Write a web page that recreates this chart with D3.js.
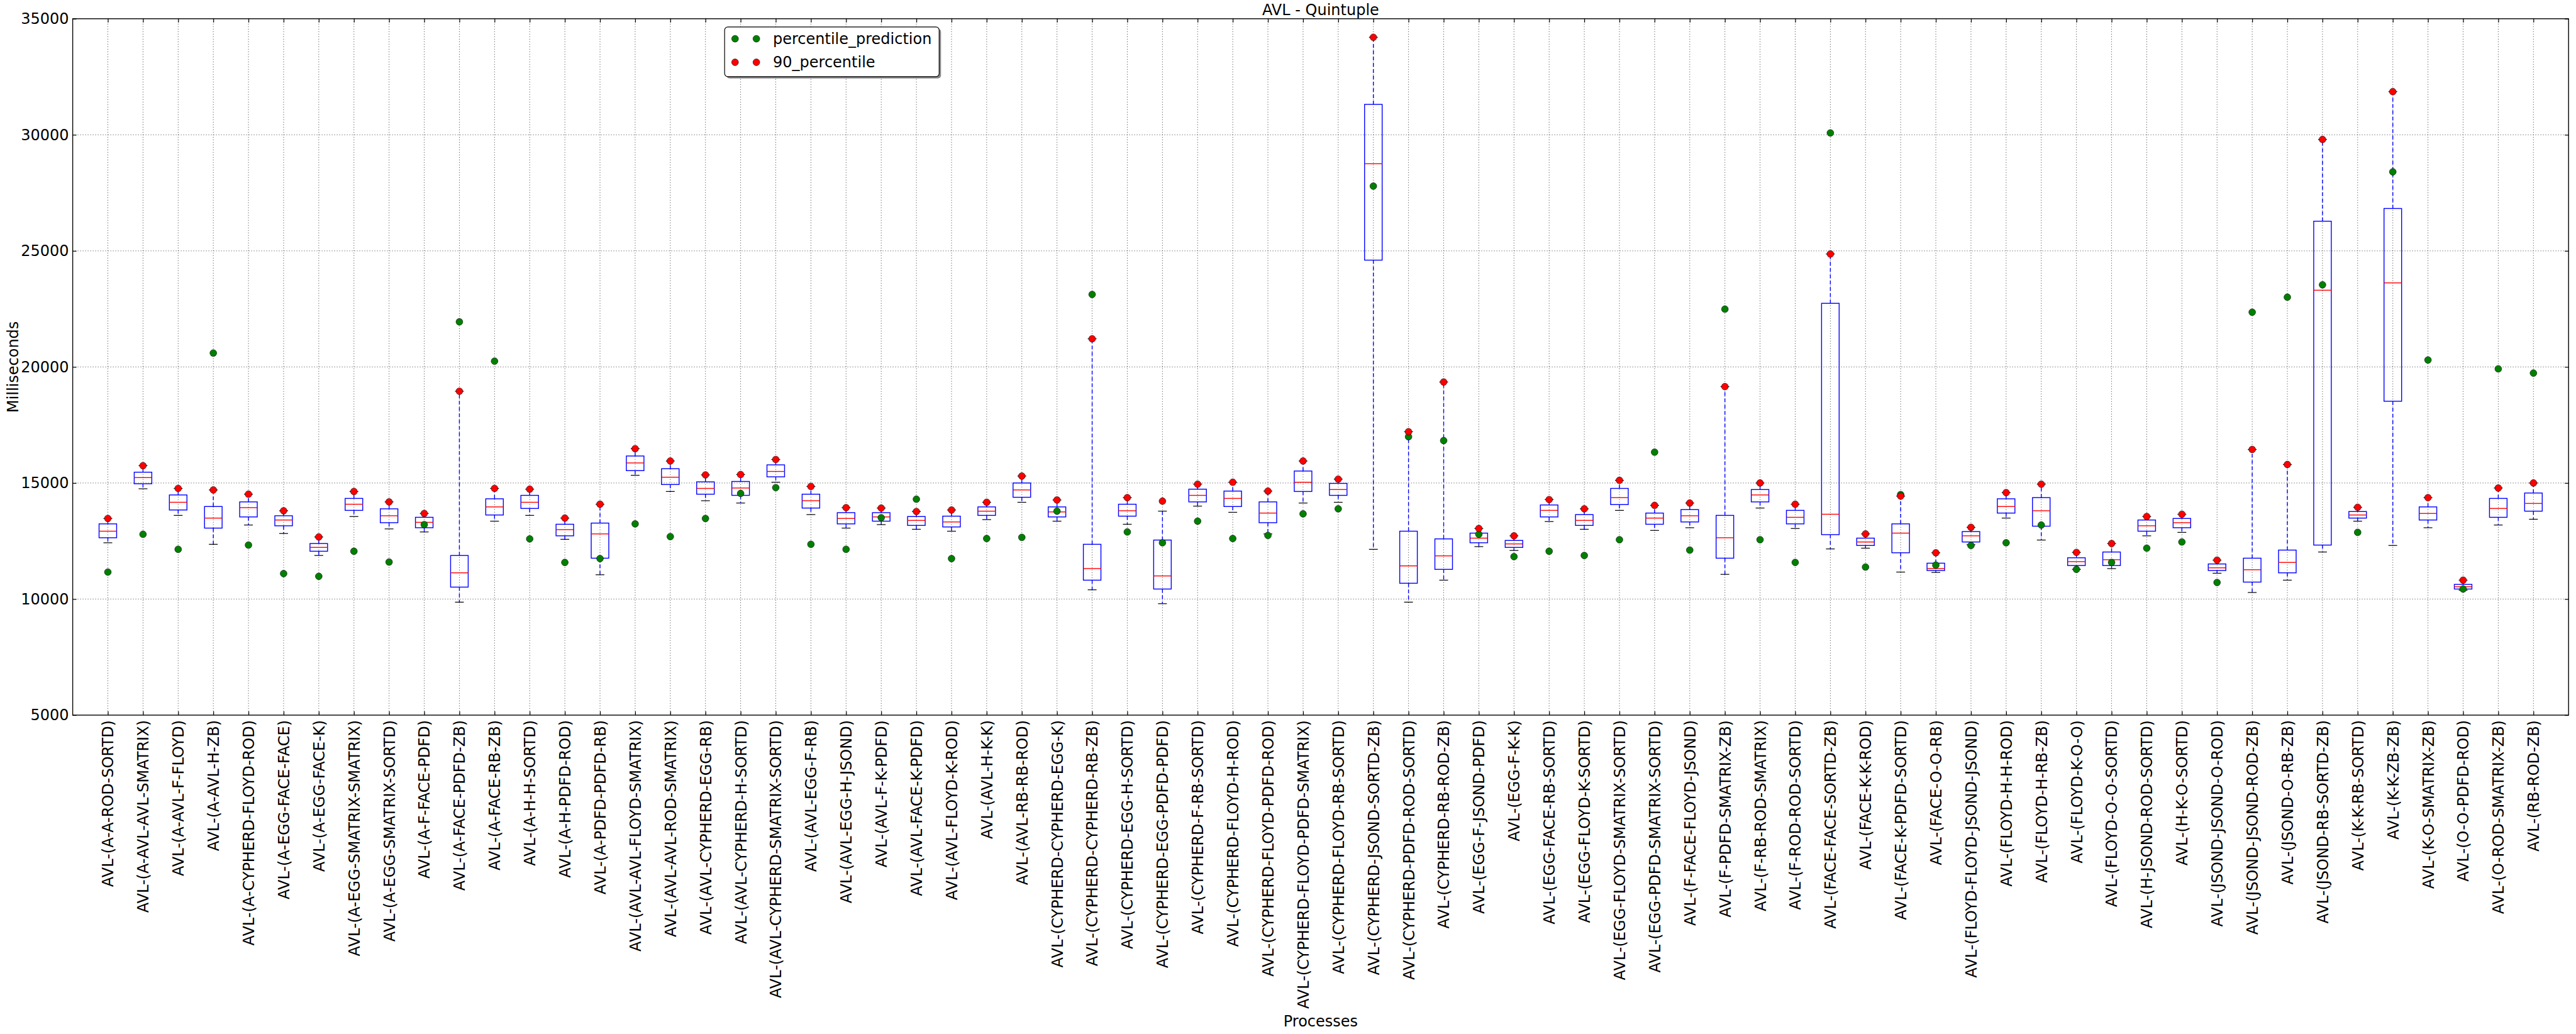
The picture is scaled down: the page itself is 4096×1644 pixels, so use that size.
<!DOCTYPE html>
<html>
<head>
<meta charset="utf-8">
<script src="https://cdn.jsdelivr.net/npm/d3@7"></script>
<style>
  html, body { margin: 0; padding: 0; background: #ffffff; }
  svg { display: block; }
  text { font-family: "DejaVu Sans", sans-serif; }
</style>
</head>
<body>
<svg id="chart" width="4096" height="1644"></svg>
<script>
const categories = [
  "AVL-(A-A-ROD-SORTD)", "AVL-(A-AVL-AVL-SMATRIX)", "AVL-(A-AVL-F-FLOYD)", "AVL-(A-AVL-H-ZB)",
  "AVL-(A-CYPHERD-FLOYD-ROD)", "AVL-(A-EGG-FACE-FACE)", "AVL-(A-EGG-FACE-K)", "AVL-(A-EGG-SMATRIX-SMATRIX)",
  "AVL-(A-EGG-SMATRIX-SORTD)", "AVL-(A-F-FACE-PDFD)", "AVL-(A-FACE-PDFD-ZB)", "AVL-(A-FACE-RB-ZB)",
  "AVL-(A-H-H-SORTD)", "AVL-(A-H-PDFD-ROD)", "AVL-(A-PDFD-PDFD-RB)", "AVL-(AVL-AVL-FLOYD-SMATRIX)",
  "AVL-(AVL-AVL-ROD-SMATRIX)", "AVL-(AVL-CYPHERD-EGG-RB)", "AVL-(AVL-CYPHERD-H-SORTD)", "AVL-(AVL-CYPHERD-SMATRIX-SORTD)",
  "AVL-(AVL-EGG-F-RB)", "AVL-(AVL-EGG-H-JSOND)", "AVL-(AVL-F-K-PDFD)", "AVL-(AVL-FACE-K-PDFD)",
  "AVL-(AVL-FLOYD-K-ROD)", "AVL-(AVL-H-K-K)", "AVL-(AVL-RB-RB-ROD)", "AVL-(CYPHERD-CYPHERD-EGG-K)",
  "AVL-(CYPHERD-CYPHERD-RB-ZB)", "AVL-(CYPHERD-EGG-H-SORTD)", "AVL-(CYPHERD-EGG-PDFD-PDFD)", "AVL-(CYPHERD-F-RB-SORTD)",
  "AVL-(CYPHERD-FLOYD-H-ROD)", "AVL-(CYPHERD-FLOYD-PDFD-ROD)", "AVL-(CYPHERD-FLOYD-PDFD-SMATRIX)", "AVL-(CYPHERD-FLOYD-RB-SORTD)",
  "AVL-(CYPHERD-JSOND-SORTD-ZB)", "AVL-(CYPHERD-PDFD-ROD-SORTD)", "AVL-(CYPHERD-RB-ROD-ZB)", "AVL-(EGG-F-JSOND-PDFD)",
  "AVL-(EGG-F-K-K)", "AVL-(EGG-FACE-RB-SORTD)", "AVL-(EGG-FLOYD-K-SORTD)", "AVL-(EGG-FLOYD-SMATRIX-SORTD)",
  "AVL-(EGG-PDFD-SMATRIX-SORTD)", "AVL-(F-FACE-FLOYD-JSOND)", "AVL-(F-PDFD-SMATRIX-ZB)", "AVL-(F-RB-ROD-SMATRIX)",
  "AVL-(F-ROD-ROD-SORTD)", "AVL-(FACE-FACE-SORTD-ZB)", "AVL-(FACE-K-K-ROD)", "AVL-(FACE-K-PDFD-SORTD)",
  "AVL-(FACE-O-O-RB)", "AVL-(FLOYD-FLOYD-JSOND-JSOND)", "AVL-(FLOYD-H-H-ROD)", "AVL-(FLOYD-H-RB-ZB)",
  "AVL-(FLOYD-K-O-O)", "AVL-(FLOYD-O-O-SORTD)", "AVL-(H-JSOND-ROD-SORTD)", "AVL-(H-K-O-SORTD)",
  "AVL-(JSOND-JSOND-O-ROD)", "AVL-(JSOND-JSOND-ROD-ZB)", "AVL-(JSOND-O-RB-ZB)", "AVL-(JSOND-RB-SORTD-ZB)",
  "AVL-(K-K-RB-SORTD)", "AVL-(K-K-ZB-ZB)", "AVL-(K-O-SMATRIX-ZB)", "AVL-(O-O-PDFD-ROD)",
  "AVL-(O-ROD-SMATRIX-ZB)", "AVL-(RB-ROD-ZB)"
];

const whiskerLow = [
  12425, 14751, 13605, 12359, 13189, 12824, 11877, 13555, 13023, 12891, 9867, 13356,
  13605, 12575, 11047, 15332, 14635, 14236, 14136, 15033, 13638, 13057, 13206, 13007,
  12924, 13422, 14170, 13356, 10399, 13223, 9801, 14003, 13738, 12807, 14136, 14170,
  12143, 9867, 10814, 12259, 12093, 13339, 13007, 13821, 12957, 13073, 11064, 13920,
  13040, 12160, 12193, 11163, 11146, 12342, 13488, 12542, 11279, 11312, 12724, 12874,
  11113, 10283, 10814, 12027, 13356, 12309, 13073, 10382, 13189, 13439
];
const quartile1 = [
  12641, 14967, 13837, 13057, 13538, 13156, 12060, 13821, 13289, 13073, 10515, 13621,
  13904, 12724, 11761, 15532, 14934, 14518, 14468, 15266, 13920, 13239, 13356, 13173,
  13106, 13605, 14385, 13538, 10814, 13572, 10432, 14186, 13987, 13289, 14635, 14468,
  24601, 10681, 11279, 12425, 12226, 13538, 13173, 14070, 13223, 13322, 11761, 14186,
  13239, 12774, 12309, 11994, 11229, 12459, 13704, 13140, 11445, 11445, 12924, 13073,
  11229, 10731, 11130, 12326, 13488, 18521, 13405, 10432, 13522, 13787
];
const medians = [
  12924, 15233, 14170, 13488, 13937, 13405, 12226, 14086, 13588, 13306, 11130, 13970,
  14170, 12990, 12807, 15864, 15249, 14767, 14784, 15498, 14236, 13472, 13538, 13389,
  13322, 13787, 14701, 13754, 11313, 13804, 10997, 14468, 14336, 13704, 15033, 14718,
  28753, 11429, 11861, 12625, 12376, 13821, 13389, 14369, 13488, 13588, 12641, 14485,
  13522, 13655, 12459, 12841, 11313, 12724, 13987, 13804, 11612, 11695, 13156, 13289,
  11346, 11263, 11578, 23305, 13621, 23621, 13688, 10532, 13904, 14120
];
const quartile3 = [
  13239, 15465, 14485, 13987, 14186, 13588, 12392, 14336, 13887, 13522, 11877, 14319,
  14468, 13223, 13273, 16163, 15615, 15050, 15066, 15781, 14518, 13721, 13721, 13555,
  13572, 13970, 15000, 13970, 12359, 14086, 12542, 14734, 14651, 14186, 15515, 14983,
  31311, 12924, 12592, 12841, 12525, 14053, 13638, 14767, 13704, 13854, 13605, 14718,
  13821, 22740, 12625, 13239, 11545, 12907, 14319, 14369, 11778, 12027, 13405, 13472,
  11512, 11761, 12110, 26278, 13771, 26826, 13970, 10631, 14336, 14568
];
const whiskerHigh = [
  13472, 15747, 14767, 14701, 14518, 13804, 12675, 14635, 14186, 13688, 18953, 14767,
  14734, 13488, 14086, 16478, 15947, 15349, 15365, 16013, 14851, 13937, 13920, 13771,
  13837, 14170, 15299, 14269, 21212, 14369, 13787, 14950, 15033, 14651, 15947, 15166,
  34201, 17209, 19352, 13040, 12724, 14286, 13887, 15116, 14037, 14136, 19153, 15000,
  14086, 24866, 12807, 14435, 11994, 13090, 14585, 14950, 12010, 12392, 13555, 13655,
  11678, 16445, 15797, 29800, 13954, 31859, 14369, 10814, 14784, 15000
];
const percentilePrediction = [
  11163, 12791, 12143, 20598, 12326, 11097, 10980, 12060, 11595, 13206, 21943, 20249,
  12592, 11578, 11744, 13239, 12691, 13472, 14552, 14801, 12359, 12143, 13505, 14302,
  11744, 12608, 12658, 13787, 23122, 12891, 12425, 13356, 12608, 12741, 13671, 13887,
  27790, 16993, 16827, 12791, 11828, 12060, 11877, 12558, 16329, 12110, 22491, 12558,
  11578, 30082, 11379, 14502, 11462, 12309, 12425, 13189, 11279, 11578, 12193, 12459,
  10715, 22358, 23006, 23538, 12874, 28404, 20299, 10432, 19917, 19734
];
const percentile90 = [
  13472, 15747, 14767, 14701, 14518, 13804, 12675, 14635, 14186, 13688, 18953, 14767,
  14734, 13488, 14086, 16478, 15947, 15349, 15365, 16013, 14851, 13937, 13920, 13771,
  13837, 14170, 15299, 14269, 21212, 14369, 14219, 14950, 15033, 14651, 15947, 15166,
  34201, 17209, 19352, 13040, 12724, 14286, 13887, 15116, 14037, 14136, 19153, 15000,
  14086, 24866, 12807, 14435, 11994, 13090, 14585, 14950, 12010, 12392, 13555, 13655,
  11678, 16445, 15797, 29800, 13954, 31859, 14369, 10814, 14784, 15000
];
const yTicks = [5000, 10000, 15000, 20000, 25000, 30000, 35000];
const titleText = "AVL - Quintuple";
const xLabel = "Processes";
const yLabel = "Milliseconds";
const legendLabels = ["percentile_prediction", "90_percentile"];

// ---------------- layout ----------------
const L = 115.6, R = 4084.2, T = 29.8, B = 1137.0;
const FS = 24;
const svg = d3.select("#chart");
const n = categories.length;

const x = d3.scaleLinear().domain([0, n + 1]).range([L, R]);
const y = d3.scaleLinear().domain([5000, 35000]).range([B, T]);
const unit = x(1) - x(0);
const boxW = unit * 0.5;
const capW = boxW * 0.5;

const rows = categories.map((c, i) => ({
  name: c, pos: i + 1,
  lo: whiskerLow[i], q1: quartile1[i], med: medians[i], q3: quartile3[i], hi: whiskerHigh[i],
  pred: percentilePrediction[i], p90: percentile90[i]
}));

// grid (dotted black, matplotlib classic)
const grid = svg.append("g");
grid.selectAll("line.gx").data(rows).join("line")
  .attr("x1", d => x(d.pos)).attr("x2", d => x(d.pos))
  .attr("y1", T).attr("y2", B)
  .attr("stroke", "#000").attr("stroke-width", 0.8).attr("stroke-dasharray", "1,3");
grid.selectAll("line.gy").data(yTicks.slice(1, -1)).join("line")
  .attr("x1", L).attr("x2", R)
  .attr("y1", d => y(d)).attr("y2", d => y(d))
  .attr("stroke", "#000").attr("stroke-width", 0.8).attr("stroke-dasharray", "1,3");

// box plots
const boxes = svg.append("g");
const bg = boxes.selectAll("g").data(rows).join("g");
bg.append("line")
  .attr("x1", d => x(d.pos)).attr("x2", d => x(d.pos))
  .attr("y1", d => y(d.q3)).attr("y2", d => y(d.hi))
  .attr("stroke", "#0000ff").attr("stroke-width", 1.4).attr("stroke-dasharray", "6,4");
bg.append("line")
  .attr("x1", d => x(d.pos)).attr("x2", d => x(d.pos))
  .attr("y1", d => y(d.q1)).attr("y2", d => y(d.lo))
  .attr("stroke", "#0000ff").attr("stroke-width", 1.4).attr("stroke-dasharray", "6,4");
bg.append("line")
  .attr("x1", d => x(d.pos) - capW / 2).attr("x2", d => x(d.pos) + capW / 2)
  .attr("y1", d => y(d.hi)).attr("y2", d => y(d.hi))
  .attr("stroke", "#000").attr("stroke-width", 1.2);
bg.append("line")
  .attr("x1", d => x(d.pos) - capW / 2).attr("x2", d => x(d.pos) + capW / 2)
  .attr("y1", d => y(d.lo)).attr("y2", d => y(d.lo))
  .attr("stroke", "#000").attr("stroke-width", 1.2);
bg.append("rect")
  .attr("x", d => x(d.pos) - boxW / 2).attr("width", boxW)
  .attr("y", d => y(d.q3)).attr("height", d => y(d.q1) - y(d.q3))
  .attr("fill", "none").attr("stroke", "#0000ff").attr("stroke-width", 1.4);
bg.append("line")
  .attr("x1", d => x(d.pos) - boxW / 2).attr("x2", d => x(d.pos) + boxW / 2)
  .attr("y1", d => y(d.med)).attr("y2", d => y(d.med))
  .attr("stroke", "#ff0000").attr("stroke-width", 1.4);

// points
const MR = 5.4;
svg.append("g").selectAll("circle").data(rows).join("circle")
  .attr("cx", d => x(d.pos)).attr("cy", d => y(d.pred)).attr("r", MR)
  .attr("fill", "#008000").attr("stroke", "#000").attr("stroke-width", 0.6);
svg.append("g").selectAll("circle").data(rows).join("circle")
  .attr("cx", d => x(d.pos)).attr("cy", d => y(d.p90)).attr("r", MR)
  .attr("fill", "#ff0000").attr("stroke", "#000").attr("stroke-width", 0.6);

// frame
svg.append("rect").attr("x", L).attr("y", T).attr("width", R - L).attr("height", B - T)
  .attr("fill", "none").attr("stroke", "#000").attr("stroke-width", 1.4);

// y axis
const yAxis = d3.axisLeft(y).tickValues(yTicks).tickSizeInner(-6).tickSizeOuter(0).tickPadding(6)
  .tickFormat(d3.format("d"));
const gy = svg.append("g").attr("transform", `translate(${L},0)`).call(yAxis);
gy.select(".domain").remove();
gy.selectAll("text").attr("font-size", FS).attr("font-family", "DejaVu Sans").attr("fill", "#000");
gy.selectAll("line").attr("stroke-width", 1.2);
const yAxisR = d3.axisRight(y).tickValues(yTicks).tickSizeInner(-6).tickSizeOuter(0).tickFormat("");
const gyr = svg.append("g").attr("transform", `translate(${R},0)`).call(yAxisR);
gyr.select(".domain").remove();
gyr.selectAll("line").attr("stroke-width", 1.2);

// x axis
const xAxis = d3.axisBottom(x).tickValues(rows.map(d => d.pos)).tickSizeInner(-6).tickSizeOuter(0)
  .tickFormat((d, i) => categories[i]);
const gx = svg.append("g").attr("transform", `translate(0,${B})`).call(xAxis);
gx.select(".domain").remove();
gx.selectAll("line").attr("stroke-width", 1.2);
gx.selectAll("text")
  .attr("font-size", FS).attr("font-family", "DejaVu Sans").attr("fill", "#000")
  .attr("transform", "rotate(-90)")
  .attr("text-anchor", "end")
  .attr("x", -8).attr("y", 0).attr("dy", "0.35em");
const xAxisT = d3.axisTop(x).tickValues(rows.map(d => d.pos)).tickSizeInner(-6).tickSizeOuter(0).tickFormat("");
const gxt = svg.append("g").attr("transform", `translate(0,${T})`).call(xAxisT);
gxt.select(".domain").remove();
gxt.selectAll("line").attr("stroke-width", 1.2);

// title and axis labels
svg.append("text").attr("x", (L + R) / 2).attr("y", 24).attr("text-anchor", "middle")
  .attr("font-size", FS).text(titleText);
svg.append("text").attr("x", (L + R) / 2).attr("y", 1632).attr("text-anchor", "middle")
  .attr("font-size", FS).text(xLabel);
svg.append("text").attr("transform", `translate(29,${(T + B) / 2}) rotate(-90)`)
  .attr("text-anchor", "middle").attr("font-size", FS).text(yLabel);

// legend
const lg = svg.append("g");
const lx = 1152.2, ly = 42.9, lw = 341.1, lh = 78.9;
lg.append("rect").attr("x", lx + 3).attr("y", ly + 3).attr("width", lw).attr("height", lh)
  .attr("rx", 5).attr("fill", "#555").attr("opacity", 0.7);
lg.append("rect").attr("x", lx).attr("y", ly).attr("width", lw).attr("height", lh)
  .attr("rx", 5).attr("fill", "#fff").attr("stroke", "#000").attr("stroke-width", 1.2);
const legendColors = ["#008000", "#ff0000"];
const rowY = [61.6, 99.0];
legendLabels.forEach((lab, i) => {
  [1168.8, 1202.7].forEach(mx => {
    lg.append("circle").attr("cx", mx).attr("cy", rowY[i]).attr("r", MR)
      .attr("fill", legendColors[i]).attr("stroke", "#000").attr("stroke-width", 0.6);
  });
  lg.append("text").attr("x", 1229).attr("y", rowY[i]).attr("dy", "0.35em")
    .attr("font-size", FS).text(lab);
});
</script>
</body>
</html>
